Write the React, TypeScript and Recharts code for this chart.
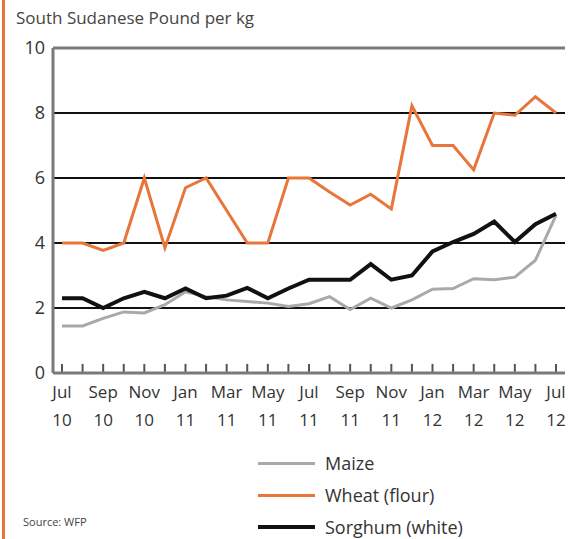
import React from "react";
import { LineChart, Line, XAxis, YAxis, CartesianGrid, Legend, ReferenceLine } from "recharts";

const months = [
  "Jul 10", "Aug 10", "Sep 10", "Oct 10", "Nov 10", "Dec 10",
  "Jan 11", "Feb 11", "Mar 11", "Apr 11", "May 11", "Jun 11",
  "Jul 11", "Aug 11", "Sep 11", "Oct 11", "Nov 11", "Dec 11",
  "Jan 12", "Feb 12", "Mar 12", "Apr 12", "May 12", "Jun 12", "Jul 12",
];

const maize = [1.45, 1.45, 1.68, 1.88, 1.85, 2.1, 2.5, 2.35, 2.25, 2.2, 2.15, 2.05, 2.13, 2.35, 1.95, 2.3, 2.0, 2.25, 2.58, 2.6, 2.9, 2.87, 2.95, 3.47, 4.85];
const wheat = [4.0, 4.0, 3.77, 4.0, 6.0, 3.85, 5.7, 6.0, 5.0, 4.0, 4.0, 6.0, 6.0, 5.57, 5.17, 5.5, 5.05, 8.22, 7.0, 7.0, 6.25, 8.0, 7.93, 8.5, 8.0];
const sorghum = [2.3, 2.3, 2.0, 2.3, 2.5, 2.3, 2.6, 2.3, 2.38, 2.62, 2.3, 2.6, 2.87, 2.87, 2.87, 3.35, 2.87, 3.0, 3.74, 4.03, 4.28, 4.66, 4.03, 4.58, 4.9];

const yTicks = [0, 2, 4, 6, 8, 10];

const data = months.map((m, i) => ({ month: m, maize: maize[i], wheat: wheat[i], sorghum: sorghum[i] }));

const series = [
  { key: "maize", name: "Maize", color: "#a9a9a9", width: 3 },
  { key: "wheat", name: "Wheat (flour)", color: "#e8763a", width: 3 },
  { key: "sorghum", name: "Sorghum (white)", color: "#111111", width: 4 },
];

const font = "'Open Sans', sans-serif";

// label every second month on two lines
const MonthTick = (props: any) => {
  const { x, y, payload } = props;
  if (payload.index % 2 !== 0) return <g />;
  const [m, yr] = String(payload.value).split(" ");
  return (
    <text x={x} y={y} textAnchor="middle" fontSize={17} fill="#333" fontFamily={font}>
      <tspan x={x} dy={25}>{m}</tspan>
      <tspan x={x} dy={28}>{yr}</tspan>
    </text>
  );
};

const LegendBox = () => (
  <div style={{ fontFamily: font, fontSize: 18, color: "#333" }}>
    {series.map((s) => (
      <div key={s.key} style={{ display: "flex", alignItems: "center", height: 32 }}>
        <div style={{ width: 57, height: s.width, background: s.color, marginRight: 10 }} />
        <span>{s.name}</span>
      </div>
    ))}
  </div>
);

export default function App() {
  return (
    <div style={{ position: "absolute", left: 0, top: 0, width: 568, height: 539, background: "#fff", overflow: "hidden" }}>
      {/* orange stripe on the left edge */}
      <div style={{ position: "absolute", left: 2, top: 0, width: 3, height: 539, background: "#e8763a" }} />
      <div style={{ position: "absolute", left: 16, top: 6, fontFamily: font, fontSize: 17, color: "#444" }}>
        South Sudanese Pound per kg
      </div>
      <div style={{ position: "absolute", left: 23, top: 514, fontFamily: font, fontSize: 11, color: "#444" }}>
        Source: WFP
      </div>
      <LineChart width={568} height={539} data={data} margin={{ top: 48, right: 3, bottom: 106, left: 0 }}>
        <CartesianGrid vertical={false} stroke="#111" strokeWidth={2} />
        <ReferenceLine y={10} stroke="#7a7a7a" strokeWidth={3} />
        {/* small upward tick marks on the x axis, one per month */}
        {months.map((m) => (
          <ReferenceLine
            key={m}
            segment={[{ x: m, y: 0.02 }, { x: m, y: 0.28 }]}
            stroke="#555"
            strokeWidth={2}
            ifOverflow="visible"
          />
        ))}
        <XAxis
          dataKey="month"
          interval={0}
          padding={{ left: 9, right: 9 }}
          height={60}
          axisLine={{ stroke: "#7a7a7a", strokeWidth: 3 }}
          tickLine={false}
          tickSize={0}
          tickMargin={0}
          tick={<MonthTick />}
        />
        <YAxis
          domain={[0, 10]}
          ticks={yTicks}
          width={53}
          axisLine={{ stroke: "#7a7a7a", strokeWidth: 3 }}
          tickLine={false}
          tickSize={0}
          tickMargin={8}
          tick={{ fontSize: 18, fill: "#333", fontFamily: font }}
        />
        {series.map((s) => (
          <Line
            key={s.key}
            type="linear"
            dataKey={s.key}
            name={s.name}
            stroke={s.color}
            strokeWidth={s.width}
            dot={false}
            activeDot={false}
            isAnimationActive={false}
          />
        ))}
        <Legend
          layout="vertical"
          align="center"
          verticalAlign="middle"
          wrapperStyle={{ left: 258, top: 447, width: 280 }}
          content={<LegendBox />}
        />
      </LineChart>
    </div>
  );
}
